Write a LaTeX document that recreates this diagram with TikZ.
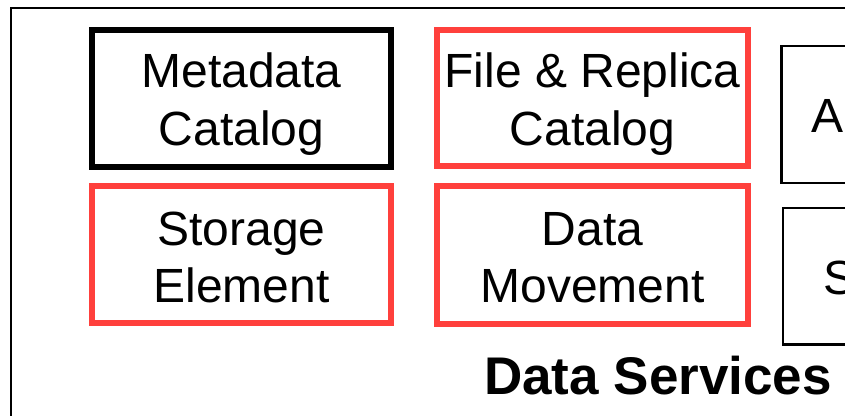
\documentclass[tikz,border=0pt]{standalone}
\usepackage{fontspec}
\setmainfont{Liberation Sans}
\definecolor{svcred}{RGB}{255,64,60}
\tikzset{
  box/.style={draw, rectangle, inner sep=0pt, outer sep=0pt},
  thickbox/.style={box, line width=6bp},
  redbox/.style={thickbox, draw=svcred},
  thinbox/.style={box, line width=2.5bp},
  txt/.style={inner sep=0pt, anchor=base, font=\fontsize{48bp}{58bp}\selectfont},
  ttl/.style={inner sep=0pt, anchor=base west, font=\fontsize{53bp}{62bp}\selectfont\bfseries},
}
\begin{document}
\begin{tikzpicture}[x=1bp,y=-1bp]
\useasboundingbox (0,0) rectangle (845,415);
\clip (0,0) rectangle (845,415);

% enclosing frame of the service group
\coordinate (frameBL) at (11,440);
\coordinate (frameTL) at (11,7.5);
\coordinate (frameTR) at (880,7.5);
\draw[line width=2bp] (frameBL) -- (frameTL) -- (frameTR);

% service boxes
\node[thickbox, minimum width=298bp, minimum height=137bp] (meta) at (241.5,98.5) {};
\node[redbox, minimum width=311bp, minimum height=135.5bp] (replica) at (592.5,97.75) {};
\node[redbox, minimum width=298.5bp, minimum height=137bp] (storage) at (241.75,254.5) {};
\node[redbox, minimum width=311bp, minimum height=137.5bp] (movement) at (592.5,254.75) {};
\node[thinbox, anchor=north west, minimum width=200bp, minimum height=137bp] (abox) at (781.5,46) {};
\node[thinbox, anchor=north west, minimum width=200bp, minimum height=136.5bp] (sbox) at (783,208) {};

% labels
\node[txt] (metaA) at (241.5,87) {Metadata};
\node[txt] (metaB) at (241.5,145) {Catalog};
\node[txt] (repA) at (592.5,87) {File \& Replica};
\node[txt] (repB) at (592.5,145) {Catalog};
\node[txt] (stoA) at (241.5,245) {Storage};
\node[txt] (stoB) at (241.5,302) {Element};
\node[txt] (movA) at (592.5,245) {Data};
\node[txt] (movB) at (592.5,302) {Movement};
\node[txt, anchor=base west] (aText) at (811.5,132) {A};
\node[txt, anchor=base west] (sText) at (823,294.5) {S};
\node[ttl] (title) at (484,394) {Data Services};
\end{tikzpicture}
\end{document}
